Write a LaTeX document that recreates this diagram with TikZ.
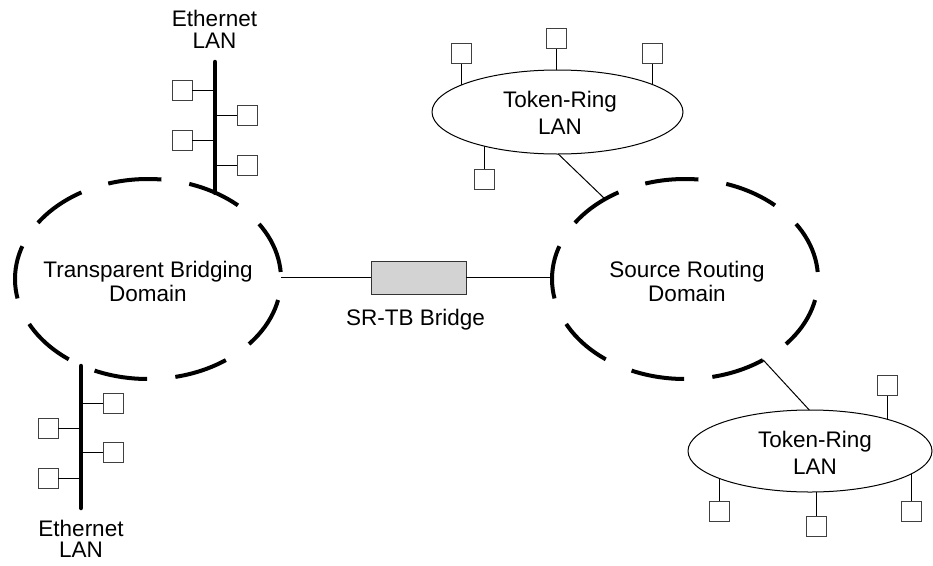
\documentclass[tikz,border=0pt]{standalone}
\usepackage{fontspec}
\setmainfont{Liberation Sans}
\usetikzlibrary{shapes.geometric,backgrounds}
\definecolor{bridgegray}{RGB}{211,211,211}
\begin{document}
\begin{tikzpicture}[x=1pt,y=-1pt,
  lbl/.style={align=center,inner sep=0,outer sep=0},
  domainell/.style={ellipse,draw,line width=4pt,minimum width=266pt,minimum height=200pt,inner sep=0,outer sep=0,dash pattern=on 53.5pt off 28.24pt,dash phase=74.7pt},
  tring/.style={ellipse,draw,line width=1pt,fill=white,inner sep=0,outer sep=0},
  sta/.style={rectangle,draw=black!75,line width=1pt,minimum size=20pt,inner sep=0,outer sep=0,fill=white},
  bus/.style={line width=4.5pt,line cap=round},
  wire/.style={line width=1pt}]
\useasboundingbox (0,0) rectangle (933,565);

% domains
\node[domainell] (tb) at (148,279) {};
\node[domainell] (srd) at (685,279) {};
\node[lbl,font=\fontsize{22.5}{24}\selectfont] (tbl) at (148,281.8) {Transparent Bridging\\Domain};
\node[lbl,font=\fontsize{22.5}{24}\selectfont] (srl) at (687,281.8) {Source Routing\\Domain};

% bridge
\node[rectangle,draw=black!80,line width=1pt,fill=bridgegray,minimum width=95pt,minimum height=33pt,inner sep=0,outer sep=0] (br) at (418.5,277.5) {};
\node[lbl,font=\fontsize{22.5}{24}\selectfont,anchor=base] (brl) at (415.5,325) {SR-TB Bridge};
\draw[wire] (tb.east |- br.west) -- (br.west);
\draw[wire] (br.east) -- (br.east -| srd.west);

% top Ethernet
\coordinate (eA) at (215,62);
\draw[bus] (eA) -- (eA |- tb.52);
\node[lbl,font=\fontsize{22.5}{22}\selectfont] (eAl) at (214.5,29.8) {Ethernet\\LAN};
\node[sta] (a1) at (182,90) {};
\node[sta] (a2) at (247,115) {};
\node[sta] (a3) at (182,140) {};
\node[sta] (a4) at (247,165) {};
\draw[wire] (a1.east) -- (a1.east -| eA);
\draw[wire] (a2.west) -- (a2.west -| eA);
\draw[wire] (a3.east) -- (a3.east -| eA);
\draw[wire] (a4.west) -- (a4.west -| eA);

% bottom Ethernet
\coordinate (eB) at (81,508);
\draw[bus] (eB |- tb.-127.8) -- (eB);
\node[lbl,font=\fontsize{22.5}{21}\selectfont] (eBl) at (81,539.3) {Ethernet\\LAN};
\node[sta] (b1) at (113,403) {};
\node[sta] (b2) at (48,428) {};
\node[sta] (b3) at (113,452) {};
\node[sta] (b4) at (48,478) {};
\draw[wire] (b1.west) -- (b1.west -| eB);
\draw[wire] (b2.east) -- (b2.east -| eB);
\draw[wire] (b3.west) -- (b3.west -| eB);
\draw[wire] (b4.east) -- (b4.east -| eB);

% top Token-Ring
\node[tring,minimum width=251pt,minimum height=84pt] (trA) at (557.5,112) {};
\node[lbl,font=\fontsize{22.5}{27}\selectfont] (trAl) at (560,113.3) {Token-Ring\\LAN};
\node[sta] (c1) at (461,53) {};
\node[sta] (c2) at (556,38) {};
\node[sta] (c3) at (652,53) {};
\node[sta] (c4) at (484,179) {};

% bottom Token-Ring
\node[tring,minimum width=244pt,minimum height=82pt] (trB) at (810,451) {};
\node[lbl,font=\fontsize{22.5}{27}\selectfont] (trBl) at (815,453.3) {Token-Ring\\LAN};
\node[sta] (d1) at (887,385) {};
\node[sta] (d2) at (719,511) {};
\node[sta] (d3) at (816,526) {};
\node[sta] (d4) at (911,511) {};

\begin{scope}[on background layer]
\foreach \s in {c1,c2,c3,c4} \draw[wire] (\s.center) -- (\s.center |- trA.center);
\foreach \s in {d1,d2,d3,d4} \draw[wire] (\s.center) -- (\s.center |- trB.center);
\end{scope}

\draw[wire] (trA.-89) -- (srd.135);
\draw[wire] (srd.-46.5) -- (trB.91);
\end{tikzpicture}
\end{document}
